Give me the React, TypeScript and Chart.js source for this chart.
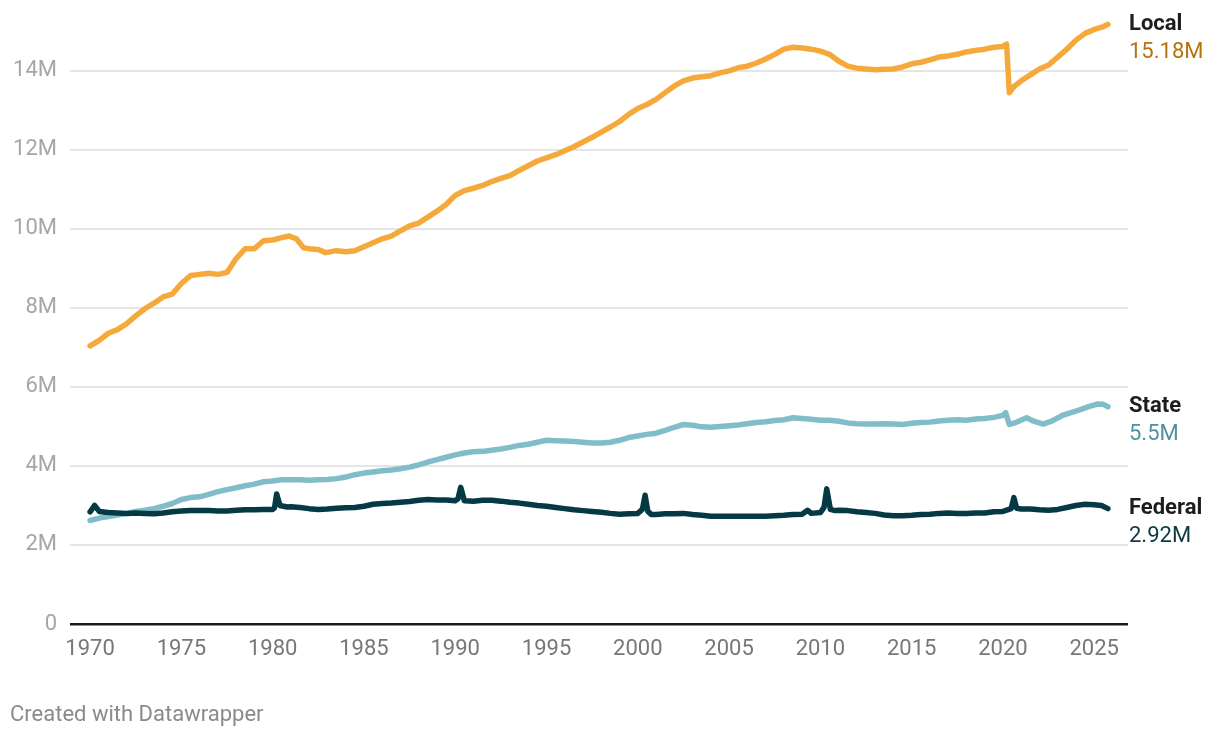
import { useEffect, useRef } from "react";
import { Chart, registerables } from "chart.js";

Chart.register(...registerables);

// ---- Data (values in millions) ----
const xTickYears = [1970, 1975, 1980, 1985, 1990, 1995, 2000, 2005, 2010, 2015, 2020, 2025];
const yTickValues = [0, 2, 4, 6, 8, 10, 12, 14];

const seriesNames = ["Local", "State", "Federal"];
const seriesEndLabels = ["15.18M", "5.5M", "2.92M"];

const localYears = [
  1970.0, 1970.5, 1971.0, 1971.5, 1972.0, 1972.5, 1973.0, 1973.5, 1974.0, 1974.5,
  1975.0, 1975.5, 1976.0, 1976.5, 1977.0, 1977.5, 1978.0, 1978.5, 1979.0, 1979.5,
  1980.0, 1980.5, 1980.9, 1981.3, 1981.7, 1982.0, 1982.5, 1982.9, 1983.5, 1984.0,
  1984.5, 1985.0, 1985.5, 1986.0, 1986.5, 1987.0, 1987.5, 1988.0, 1988.5, 1989.0,
  1989.5, 1990.0, 1990.5, 1991.0, 1991.5, 1992.0, 1992.5, 1993.0, 1993.5, 1994.0,
  1994.5, 1995.0, 1995.5, 1996.0, 1996.5, 1997.0, 1997.5, 1998.0, 1998.5, 1999.0,
  1999.5, 2000.0, 2000.5, 2001.0, 2001.5, 2002.0, 2002.5, 2003.0, 2003.5, 2004.0,
  2004.5, 2005.0, 2005.5, 2006.0, 2006.5, 2007.0, 2007.5, 2008.0, 2008.5, 2009.0,
  2009.5, 2010.0, 2010.5, 2011.0, 2011.5, 2012.0, 2012.5, 2013.0, 2013.5, 2014.0,
  2014.5, 2015.0, 2015.5, 2016.0, 2016.5, 2017.0, 2017.5, 2018.0, 2018.5, 2019.0,
  2019.5, 2020.0, 2020.2, 2020.35, 2020.6, 2021.0, 2021.5, 2022.0, 2022.5, 2023.0,
  2023.5, 2024.0, 2024.5, 2025.0, 2025.5, 2025.75,
];
const localValues = [
  7.04, 7.18, 7.36, 7.45, 7.6, 7.8, 7.98, 8.12, 8.28, 8.35,
  8.62, 8.82, 8.85, 8.88, 8.85, 8.9, 9.25, 9.5, 9.5, 9.7,
  9.72, 9.78, 9.82, 9.75, 9.52, 9.5, 9.48, 9.4, 9.45, 9.42,
  9.45, 9.55, 9.65, 9.75, 9.82, 9.95, 10.08, 10.15, 10.3, 10.45,
  10.62, 10.85, 10.97, 11.03, 11.1, 11.2, 11.28, 11.35, 11.48, 11.6,
  11.72, 11.8, 11.88, 11.98, 12.08, 12.2, 12.32, 12.45, 12.58, 12.72,
  12.9, 13.05, 13.15, 13.28, 13.45, 13.62, 13.75, 13.82, 13.85, 13.88,
  13.95, 14.0, 14.08, 14.12, 14.2, 14.3, 14.42, 14.55, 14.6, 14.58,
  14.55, 14.5, 14.42, 14.25, 14.12, 14.07, 14.05, 14.03, 14.04, 14.05,
  14.1, 14.18, 14.22, 14.28, 14.35, 14.38, 14.42, 14.48, 14.52, 14.55,
  14.6, 14.62, 14.68, 13.45, 13.6, 13.75, 13.9, 14.05, 14.15, 14.35,
  14.55, 14.78, 14.95, 15.05, 15.12, 15.18,
];

const stateYears = [
  1970.0, 1970.5, 1971.0, 1971.5, 1972.0, 1972.5, 1973.0, 1973.5, 1974.0, 1974.5,
  1975.0, 1975.5, 1976.0, 1976.5, 1977.0, 1977.5, 1978.0, 1978.5, 1979.0, 1979.5,
  1980.0, 1980.5, 1981.0, 1981.5, 1982.0, 1982.5, 1983.0, 1983.5, 1984.0, 1984.5,
  1985.0, 1985.5, 1986.0, 1986.5, 1987.0, 1987.5, 1988.0, 1988.5, 1989.0, 1989.5,
  1990.0, 1990.5, 1991.0, 1991.5, 1992.0, 1992.5, 1993.0, 1993.5, 1994.0, 1994.5,
  1995.0, 1995.5, 1996.0, 1996.5, 1997.0, 1997.5, 1998.0, 1998.5, 1999.0, 1999.5,
  2000.0, 2000.5, 2001.0, 2001.5, 2002.0, 2002.5, 2003.0, 2003.5, 2004.0, 2004.5,
  2005.0, 2005.5, 2006.0, 2006.5, 2007.0, 2007.5, 2008.0, 2008.5, 2009.0, 2009.5,
  2010.0, 2010.5, 2011.0, 2011.5, 2012.0, 2012.5, 2013.0, 2013.5, 2014.0, 2014.5,
  2015.0, 2015.5, 2016.0, 2016.5, 2017.0, 2017.5, 2018.0, 2018.5, 2019.0, 2019.5,
  2020.0, 2020.15, 2020.35, 2020.7, 2021.3, 2021.6, 2022.2, 2022.7, 2023.3, 2024.2,
  2024.7, 2025.2, 2025.5, 2025.75,
];
const stateValues = [
  2.62, 2.68, 2.72, 2.76, 2.8, 2.85, 2.88, 2.92, 2.98, 3.05,
  3.15, 3.2, 3.22, 3.28, 3.35, 3.4, 3.45, 3.5, 3.54, 3.6,
  3.62, 3.65, 3.65, 3.65, 3.64, 3.65, 3.66, 3.68, 3.72, 3.78,
  3.82, 3.85, 3.88, 3.9, 3.93, 3.97, 4.03, 4.1, 4.16, 4.22,
  4.28, 4.33, 4.36, 4.37, 4.4, 4.43, 4.47, 4.52, 4.55, 4.6,
  4.65, 4.64, 4.63, 4.62, 4.6, 4.58, 4.58, 4.6, 4.65, 4.72,
  4.76, 4.8, 4.83, 4.9, 4.98, 5.05, 5.03, 4.99, 4.98, 5.0,
  5.02, 5.04, 5.07, 5.1, 5.12, 5.15, 5.17, 5.22, 5.2, 5.18,
  5.16, 5.16, 5.13, 5.09, 5.07, 5.06, 5.06, 5.07, 5.06, 5.05,
  5.08, 5.1, 5.11, 5.14, 5.16, 5.17, 5.16, 5.19, 5.2, 5.23,
  5.28, 5.35, 5.05, 5.1, 5.22, 5.15, 5.06, 5.14, 5.29, 5.42,
  5.5, 5.57, 5.56, 5.5,
];

const federalYears = [
  1970.0, 1970.25, 1970.5, 1971.0, 1971.5, 1972.0, 1972.5, 1973.0, 1973.5, 1974.0,
  1974.5, 1975.0, 1975.5, 1976.0, 1976.5, 1977.0, 1977.5, 1978.0, 1978.5, 1979.0,
  1979.5, 1980.0, 1980.1, 1980.22, 1980.4, 1980.8, 1981.0, 1981.5, 1982.0, 1982.5,
  1983.0, 1983.5, 1984.0, 1984.5, 1985.0, 1985.5, 1986.0, 1986.5, 1987.0, 1987.5,
  1988.0, 1988.5, 1989.0, 1989.5, 1990.0, 1990.15, 1990.3, 1990.5, 1991.0, 1991.5,
  1992.0, 1992.5, 1993.0, 1993.5, 1994.0, 1994.5, 1995.0, 1995.5, 1996.0, 1996.5,
  1997.0, 1997.5, 1998.0, 1998.5, 1999.0, 1999.5, 2000.0, 2000.25, 2000.4, 2000.55,
  2000.75, 2001.0, 2001.5, 2002.0, 2002.5, 2003.0, 2003.5, 2004.0, 2004.5, 2005.0,
  2005.5, 2006.0, 2006.5, 2007.0, 2007.5, 2008.0, 2008.5, 2009.0, 2009.3, 2009.5,
  2010.0, 2010.2, 2010.35, 2010.55, 2010.8, 2011.0, 2011.5, 2012.0, 2012.5, 2013.0,
  2013.5, 2014.0, 2014.5, 2015.0, 2015.5, 2016.0, 2016.5, 2017.0, 2017.5, 2018.0,
  2018.5, 2019.0, 2019.5, 2020.0, 2020.45, 2020.6, 2020.75, 2021.0, 2021.5, 2022.0,
  2022.5, 2023.0, 2023.5, 2024.0, 2024.5, 2025.0, 2025.4, 2025.75,
];
const federalValues = [
  2.84, 3.0, 2.85, 2.82, 2.81, 2.8, 2.81, 2.8, 2.79, 2.81,
  2.84, 2.86, 2.87, 2.87, 2.87, 2.86, 2.86, 2.88, 2.89, 2.89,
  2.9, 2.9, 2.94, 3.29, 3.0, 2.96, 2.97, 2.95, 2.92, 2.9,
  2.91, 2.93, 2.94, 2.95, 2.98, 3.03, 3.05, 3.06, 3.08, 3.1,
  3.13, 3.15, 3.14, 3.14, 3.12, 3.17, 3.46, 3.12, 3.11, 3.13,
  3.13, 3.11, 3.08, 3.06, 3.03, 3.0, 2.98, 2.95, 2.92, 2.89,
  2.87, 2.85, 2.83, 2.8, 2.78, 2.79, 2.8, 2.9, 3.26, 2.85,
  2.77, 2.77, 2.79, 2.79, 2.8, 2.77, 2.75, 2.73, 2.73, 2.73,
  2.73, 2.73, 2.73, 2.73, 2.74, 2.75, 2.77, 2.78, 2.88, 2.8,
  2.82, 2.95, 3.42, 2.9, 2.87, 2.88, 2.87, 2.84, 2.82, 2.8,
  2.76, 2.74, 2.74, 2.75, 2.77, 2.78, 2.8, 2.81, 2.8, 2.8,
  2.81, 2.81, 2.84, 2.85, 2.92, 3.2, 2.93, 2.91, 2.91, 2.89,
  2.88, 2.9, 2.95, 3.0, 3.03, 3.02, 3.0, 2.92,
];

const lineColors = ["#f6a93b", "#80bdc9", "#053a44"];
const endLabelColors = ["#b5730f", "#4f919e", "#0b3b44"];

function toPoints(xs: number[], ys: number[]) {
  return xs.map((x, i) => ({ x, y: ys[i] }));
}

export default function App() {
  const canvasRef = useRef<HTMLCanvasElement | null>(null);

  useEffect(() => {
    if (!canvasRef.current) return;

    const endLabels = {
      id: "endLabels",
      afterDatasetsDraw(chart: any) {
        const ctx = chart.ctx;
        const area = chart.chartArea;
        ctx.save();
        chart.data.datasets.forEach((_ds: any, i: number) => {
          const meta = chart.getDatasetMeta(i);
          const last = meta.data[meta.data.length - 1];
          const y = last.y;
          ctx.textAlign = "left";
          ctx.textBaseline = "middle";
          ctx.font = "bold 22px Roboto";
          ctx.fillStyle = "#1d1d1d";
          ctx.fillText(seriesNames[i], area.right + 1, y);
          ctx.font = "22px Roboto";
          ctx.fillStyle = endLabelColors[i];
          ctx.fillText(seriesEndLabels[i], area.right + 1, y + 28);
        });
        ctx.font = "22px Roboto";
        ctx.fillStyle = "#8a8a8a";
        ctx.textAlign = "left";
        ctx.textBaseline = "middle";
        ctx.fillText("Created with Datawrapper", 2, 707);
        ctx.restore();
      },
    };

    const datasets = [
      { label: seriesNames[0], data: toPoints(localYears, localValues), order: 3 },
      { label: seriesNames[1], data: toPoints(stateYears, stateValues), order: 2 },
      { label: seriesNames[2], data: toPoints(federalYears, federalValues), order: 1 },
    ].map((d, i) => ({
      ...d,
      borderColor: lineColors[i],
      backgroundColor: lineColors[i],
      borderWidth: 5.5,
      pointRadius: 0,
      tension: 0,
      clip: false as const,
      borderCapStyle: "round" as const,
      borderJoinStyle: "round" as const,
    }));

    const chart = new Chart(canvasRef.current, {
      type: "line",
      data: { datasets },
      options: {
        animation: false,
        responsive: true,
        maintainAspectRatio: false,
        layout: { padding: { top: 8, right: 84, left: 0, bottom: 0 } },
        plugins: { legend: { display: false }, tooltip: { enabled: false } },
        scales: {
          x: {
            type: "linear",
            min: 1968.9,
            max: 2026.85,
            grid: { display: false, drawTicks: false },
            border: { display: false },
            afterBuildTicks: (scale: any) => {
              scale.ticks = xTickYears.map((v) => ({ value: v }));
            },
            afterFit: (scale: any) => {
              scale.height = 106;
              scale.paddingLeft = 0;
              scale.paddingRight = 0;
            },
            ticks: {
              color: "#777777",
              font: { family: "Roboto", size: 22 },
              padding: 12,
              maxRotation: 0,
              autoSkip: false,
              callback: (v: any) => String(v),
            },
          },
          y: {
            type: "linear",
            min: 0,
            max: 15.39,
            border: { display: false },
            grid: {
              drawTicks: false,
              color: (c: any) => (c.tick && c.tick.value === 0 ? "#1a1a1a" : "#e5e5e5"),
              lineWidth: (c: any) => (c.tick && c.tick.value === 0 ? 2.5 : 2),
            },
            afterBuildTicks: (scale: any) => {
              scale.ticks = yTickValues.map((v) => ({ value: v }));
            },
            afterFit: (scale: any) => {
              scale.width = 62;
              scale.paddingTop = 0;
              scale.paddingBottom = 0;
            },
            ticks: {
              color: "#a6a6a6",
              font: { family: "Roboto", size: 22 },
              padding: 13,
              callback: (v: any) => (v === 0 ? "0" : v + "M"),
            },
          },
        },
      },
      plugins: [endLabels],
    });

    return () => chart.destroy();
  }, []);

  return (
    <div style={{ width: 1204, height: 722, position: "relative" }}>
      <canvas ref={canvasRef} />
    </div>
  );
}
